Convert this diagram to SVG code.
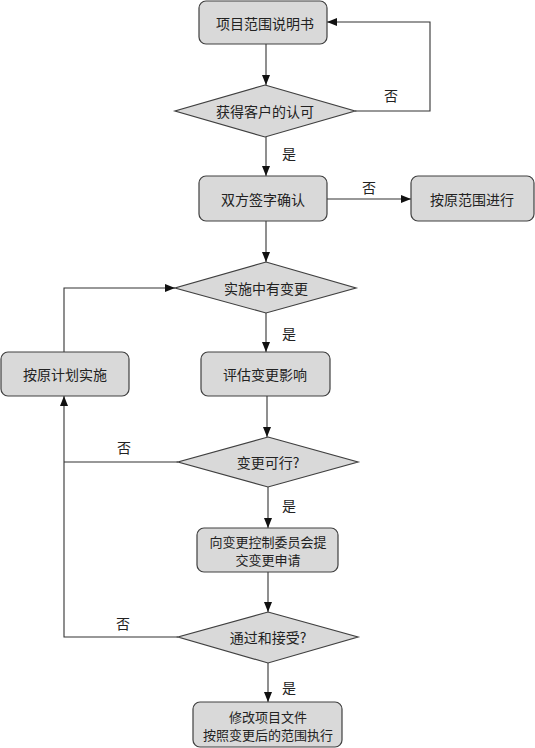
<svg xmlns="http://www.w3.org/2000/svg" width="535" height="748" viewBox="0 0 535 748">
<style>
.box{fill:#d9d9d9;stroke:#404040;stroke-width:1.2}
.t{font-family:"Noto Sans CJK SC","Liberation Sans",sans-serif;font-size:14px;fill:#222;text-anchor:middle;dominant-baseline:central}
.s{font-size:13px}
.c{fill:none;stroke:#333;stroke-width:1.1}
</style>
<defs>
<marker id="a" markerWidth="10" markerHeight="8" refX="10" refY="4" orient="auto" markerUnits="userSpaceOnUse">
<path d="M0,0 L10,4 L0,8 z" fill="#111"/>
</marker>
</defs>
<rect width="535" height="748" fill="#fff"/>
<g id="connectors">
<path class="c" d="M266,44 V85" marker-end="url(#a)"/>
<path class="c" d="M355,111 H430 V22 H327" marker-end="url(#a)"/>
<path class="c" d="M266,137 V176" marker-end="url(#a)"/>
<path class="c" d="M327,199 H411" marker-end="url(#a)"/>
<path class="c" d="M266,221 V262" marker-end="url(#a)"/>
<path class="c" d="M266,313 V352" marker-end="url(#a)"/>
<path class="c" d="M64,352 V288 H175" marker-end="url(#a)"/>
<path class="c" d="M267,396 V437" marker-end="url(#a)"/>
<path class="c" d="M178,462 H64"/>
<path class="c" d="M178,637 H64 V396" marker-end="url(#a)"/>
<path class="c" d="M268,487 V528" marker-end="url(#a)"/>
<path class="c" d="M268,572 V612" marker-end="url(#a)"/>
<path class="c" d="M268,663 V702" marker-end="url(#a)"/>
<text class="t" x="391" y="95">否</text>
<text class="t" x="289" y="153">是</text>
<text class="t" x="369" y="187">否</text>
<text class="t" x="289" y="333">是</text>
<text class="t" x="124" y="447">否</text>
<text class="t" x="289" y="505">是</text>
<text class="t" x="123" y="623">否</text>
<text class="t" x="289" y="687">是</text>
</g>
<g id="n1"><rect class="box" x="199" y="1" width="128" height="43" rx="7"/><text class="t" x="265" y="23">项目范围说明书</text></g>
<g id="n2"><polygon class="box" points="265,85 355,111 265,137 175,111"/><text class="t" x="265" y="111">获得客户的认可</text></g>
<g id="n3"><rect class="box" x="199" y="176" width="128" height="45" rx="7"/><text class="t" x="263" y="199">双方签字确认</text></g>
<g id="n4"><rect class="box" x="411" y="176" width="123" height="45" rx="7"/><text class="t" x="472" y="199">按原范围进行</text></g>
<g id="n5"><polygon class="box" points="266,262 356,288 266,313 175,288"/><text class="t" x="266" y="288">实施中有变更</text></g>
<g id="n6"><rect class="box" x="1" y="352" width="128" height="44" rx="7"/><text class="t" x="65" y="374">按原计划实施</text></g>
<g id="n7"><rect class="box" x="201" y="352" width="129" height="44" rx="7"/><text class="t" x="265" y="374">评估变更影响</text></g>
<g id="n8"><polygon class="box" points="268,437 358,462 268,487 178,462"/><text class="t" x="268" y="462">变更可行?</text></g>
<g id="n9"><rect class="box" x="197" y="528" width="141" height="44" rx="7"/><text class="t s" x="268" y="541">向变更控制委员会提</text><text class="t s" x="268" y="559">交变更申请</text></g>
<g id="n10"><polygon class="box" points="268,612 358,637 268,663 178,637"/><text class="t" x="268" y="637">通过和接受?</text></g>
<g id="n11"><rect class="box" x="193" y="702" width="149" height="45" rx="7"/><text class="t s" x="268" y="716">修改项目文件</text><text class="t s" x="268" y="734">按照变更后的范围执行</text></g>
</svg>
